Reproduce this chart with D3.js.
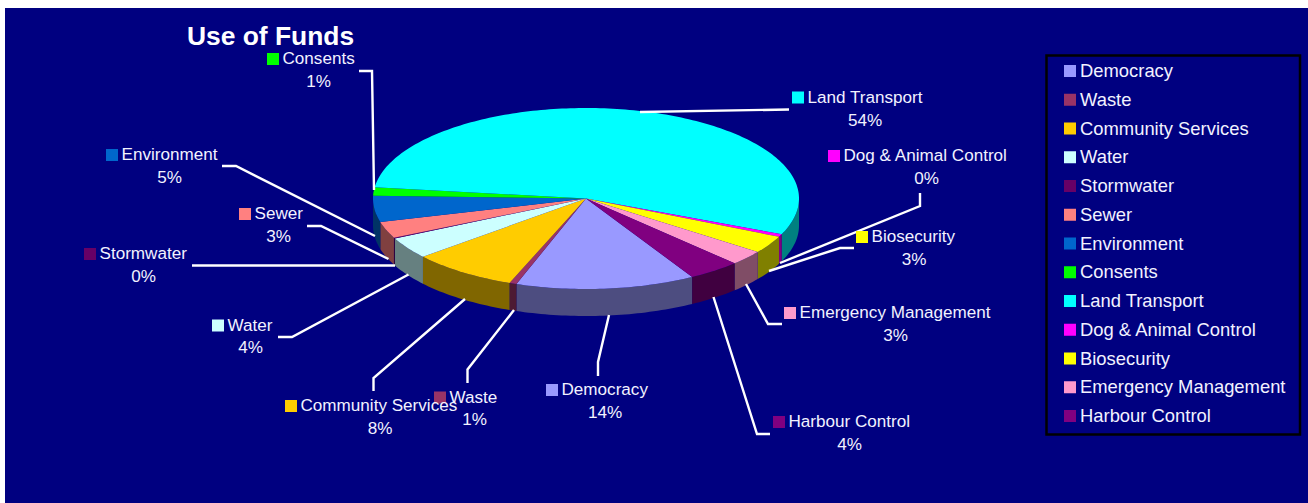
<!DOCTYPE html>
<html>
<head>
<meta charset="utf-8">
<script src="https://cdn.jsdelivr.net/npm/d3@7/dist/d3.min.js"></script>
<style>
  html, body { margin: 0; padding: 0; background: #fff; }
  svg { display: block; }
  text { font-family: "Liberation Sans", Arial, sans-serif; fill: #f2f2ff; }
</style>
</head>
<body>
<div id="chart"></div>
<script>
// Share of funds by activity, in percent
const categories = ["Democracy", "Waste", "Community Services", "Water", "Stormwater", "Sewer",
  "Environment", "Consents", "Land Transport", "Dog & Animal Control", "Biosecurity",
  "Emergency Management", "Harbour Control"];
const shares = [13.6, 0.55, 8.03, 3.86, 0.15, 2.93, 4.67, 1.49, 54.49, 0.49, 3.12, 2.64, 3.98];
const topColors = ["#9999FF", "#993366", "#FFCC00", "#CCFFFF", "#660066", "#FF8080",
  "#0066CC", "#00FF00", "#00FFFF", "#FF00FF", "#FFFF00", "#FF99CC", "#800080"];

// Callout placement per category: swatch-left, label baseline, percent centre, percent baseline
const calloutX = [546, 434, 285, 212, 84, 239, 106, 267, 792, 828, 856, 784, 773];
const calloutY = [395, 402.5, 411, 330.5, 259, 219, 160, 64, 102.5, 161, 242, 318, 427];
const percentX = [605, 474.5, 380, 250.5, 143.5, 278.5, 169.5, 318.5, 865, 926.5, 914, 895.5, 849.5];
const percentY = [417.5, 425, 434, 353, 282, 242, 183, 87, 125.5, 183.5, 265, 340.5, 450];

// Leader polylines per category, running from the label end to the pie
const leaders = [
  [[598, 376], [598, 362], [609, 315]],
  [[467.5, 383], [467.5, 369.5], [514, 310]],
  [[373.5, 391], [373.5, 378], [465, 299]],
  [[278, 337], [292, 337], [408.5, 274.5]],
  [[192, 265.5], [395, 265.5]],
  [[307, 226], [321, 226], [388.5, 259]],
  [[222, 166], [236, 166], [375, 236]],
  [[359, 71], [372, 71], [374, 190]],
  [[789, 109.5], [640, 112]],
  [[920, 193], [920, 206], [780, 263]],
  [[854, 248], [840, 248], [769, 271]],
  [[782, 324], [768, 324], [746, 284]],
  [[770, 434], [757, 434], [713.5, 297]]
];

const width = 1308, height = 503;
const pieCentre = { x: 586, y: 198.5 }, radiusX = 213, radiusY = 90.5, depth = 27;

const svg = d3.select("#chart").append("svg")
  .attr("width", width).attr("height", height);

// Navy plot background leaves a white sliver on the top and left
svg.append("rect")
  .attr("x", 5).attr("y", 8)
  .attr("width", width - 5).attr("height", height - 8)
  .attr("fill", "#000080");

svg.append("text")
  .attr("x", 187).attr("y", 45)
  .attr("font-size", 26.4).attr("font-weight", "bold")
  .style("fill", "#fff")
  .text("Use of Funds");

// Tilted pie: a unit circle mapped onto an ellipse through two scales
const ex = d3.scaleLinear().domain([-1, 1]).range([pieCentre.x - radiusX, pieCentre.x + radiusX]);
const ey = d3.scaleLinear().domain([-1, 1]).range([pieCentre.y - radiusY, pieCentre.y + radiusY]);

const pie = d3.pie().sort(null).value((d, i) => shares[i])
  .startAngle(150.1 * Math.PI / 180)
  .endAngle((150.1 + 360) * Math.PI / 180);
const slices = pie(categories);

const toXY = (a, drop = 0) => [ex(Math.sin(a)), ey(-Math.cos(a)) + drop];
const rimSteps = (a0, a1) => {
  const n = Math.max(2, Math.ceil((a1 - a0) / 0.02));
  return d3.range(n + 1).map(i => a0 + (a1 - a0) * i / n);
};
const line = d3.line();

// Only the front half of the rim (quarter turn to three quarters) is visible
const wallRuns = slices.flatMap((s, i) => {
  const runs = [];
  [0, 2 * Math.PI].forEach(turn => {
    const a0 = Math.max(s.startAngle, Math.PI / 2 + turn);
    const a1 = Math.min(s.endAngle, 3 * Math.PI / 2 + turn);
    if (a1 > a0) runs.push({ a0, a1, i });
  });
  return runs;
});

const shade = c => {
  const rgb = d3.rgb(c);
  return d3.rgb(rgb.r * 0.5, rgb.g * 0.5, rgb.b * 0.5).formatHex();
};

svg.append("g").selectAll("path").data(wallRuns).join("path")
  .attr("d", r => {
    const steps = rimSteps(r.a0, r.a1);
    const pts = steps.map(a => toXY(a)).concat(steps.slice().reverse().map(a => toXY(a, depth)));
    return line(pts) + "Z";
  })
  .attr("fill", r => shade(topColors[r.i]));

svg.append("g").selectAll("path").data(slices).join("path")
  .attr("d", s => line([[pieCentre.x, pieCentre.y]].concat(rimSteps(s.startAngle, s.endAngle).map(a => toXY(a)))) + "Z")
  .attr("fill", (s, i) => topColors[i]);

// Leader lines
svg.append("g").selectAll("path").data(leaders).join("path")
  .attr("d", d => line(d))
  .attr("fill", "none").attr("stroke", "#fff").attr("stroke-width", 2.4);

// Callouts: swatches go first so every label stays readable on top of them
const percentFormat = d3.format(".0%");
const total = d3.sum(shares);
svg.append("g").selectAll("rect").data(categories).join("rect")
  .attr("x", (d, i) => calloutX[i]).attr("y", (d, i) => calloutY[i] - 11)
  .attr("width", 12).attr("height", 12)
  .attr("fill", (d, i) => topColors[i]);
const callouts = svg.append("g").selectAll("g").data(categories).join("g");
callouts.append("text")
  .attr("x", (d, i) => calloutX[i] + 15.5).attr("y", (d, i) => calloutY[i])
  .attr("font-size", 17.1)
  .text(d => d);
callouts.append("text")
  .attr("x", (d, i) => percentX[i]).attr("y", (d, i) => percentY[i])
  .attr("text-anchor", "middle").attr("font-size", 17.1)
  .text((d, i) => percentFormat(shares[i] / total));

// Legend
svg.append("rect")
  .attr("x", 1046.5).attr("y", 55.5).attr("width", 253.5).attr("height", 379)
  .attr("fill", "none").attr("stroke", "#000").attr("stroke-width", 2.5);
const rowY = d3.scalePoint().domain(categories).range([71, 416]);
const legend = svg.append("g").selectAll("g").data(categories).join("g");
legend.append("rect")
  .attr("x", 1064).attr("y", d => rowY(d) - 6)
  .attr("width", 12).attr("height", 12)
  .attr("fill", (d, i) => topColors[i]);
legend.append("text")
  .attr("x", 1080).attr("y", d => rowY(d) + 6)
  .attr("font-size", 18.4)
  .text(d => d);
</script>
</body>
</html>
